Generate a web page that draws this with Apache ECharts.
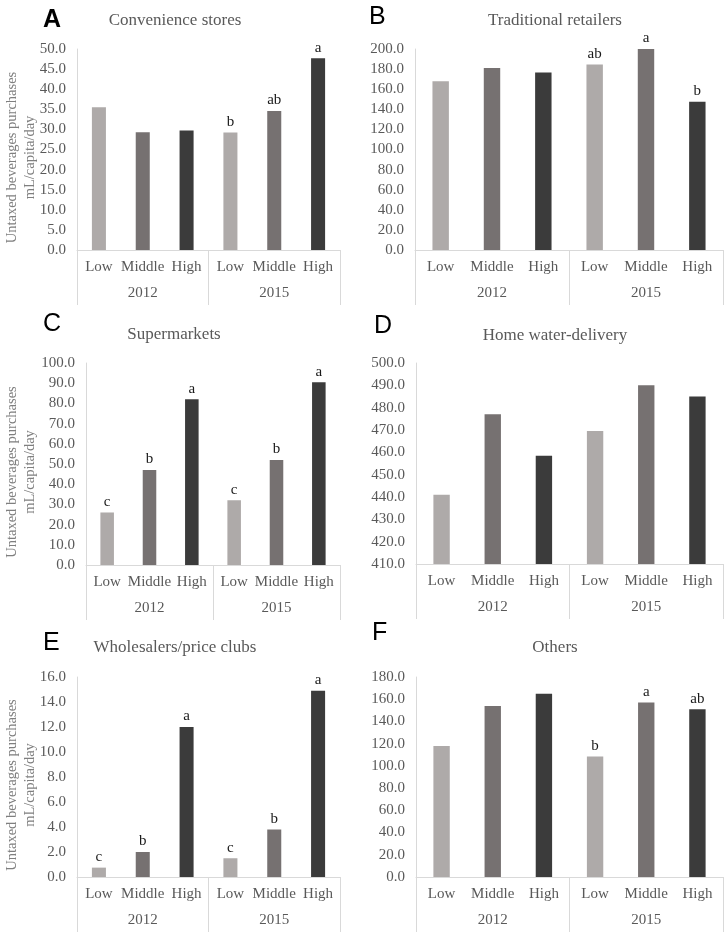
<!DOCTYPE html>
<html>
<head>
<meta charset="utf-8">
<script src="https://cdn.jsdelivr.net/npm/echarts@6/dist/echarts.min.js"></script>
<style>html,body{margin:0;padding:0;background:#fff}#c{width:726px;height:934px}</style>
</head>
<body>
<div id="c"></div>
<script>
var categories = ['Low', 'Middle', 'High', 'Low', 'Middle', 'High'];
var years = ['2012', '2015'];

var convenience = [35.5, 29.3, 29.7, 29.2, 34.6, 47.7];
var traditional = [168.0, 181.0, 176.5, 184.5, 201.0, 147.5];
var supermarkets = [26.0, 47.0, 82.0, 32.0, 52.0, 90.5];
var homeWater = [441.0, 477.0, 458.5, 469.5, 490.0, 485.0];
var wholesalers = [0.75, 2.0, 12.0, 1.5, 3.8, 14.9];
var others = [118.0, 154.0, 165.0, 108.5, 157.0, 151.0];

var lettersA = ['', '', '', 'b', 'ab', 'a'];
var lettersB = ['', '', '', 'ab', 'a', 'b'];
var lettersC = ['c', 'b', 'a', 'c', 'b', 'a'];
var lettersD = ['', '', '', '', '', ''];
var lettersE = ['c', 'b', 'a', 'c', 'b', 'a'];
var lettersF = ['', '', '', 'b', 'a', 'ab'];

var titles = ['Convenience stores', 'Traditional retailers', 'Supermarkets', 'Home water-delivery', 'Wholesalers/price clubs', 'Others'];
var panelLetters = ['A', 'B', 'C', 'D', 'E', 'F'];
var yTitle = 'Untaxed beverages purchases\nmL/capita/day';

var yMin = [0, 0, 0, 410, 0, 0];
var yMax = [50, 200, 100, 500, 16, 180];
var yInt = [5, 20, 10, 10, 2, 20];

var panels = [
  {data: convenience, letters: lettersA, grid: {left: 77, top: 49, width: 263, height: 201}, yName: true},
  {data: traditional, letters: lettersB, grid: {left: 415, top: 49, width: 308, height: 201}, yName: false},
  {data: supermarkets, letters: lettersC, grid: {left: 86, top: 363, width: 254, height: 202}, yName: true},
  {data: homeWater, letters: lettersD, grid: {left: 416, top: 363, width: 307, height: 201}, yName: false},
  {data: wholesalers, letters: lettersE, grid: {left: 77, top: 677, width: 263, height: 200}, yName: true},
  {data: others, letters: lettersF, grid: {left: 416, top: 677, width: 307, height: 200}, yName: false}
];

var barColors = ['#aeaaa9', '#767171', '#3b3b3b'];
var serif = 'Liberation Serif';
var axisGray = '#d9d9d9';
var textGray = '#595959';

var grids = [], xAxes = [], yAxes = [], series = [], titleList = [], graphics = [];
var letterPos = [[43, 8], [369, 5], [43, 312], [374, 314], [43, 631], [372, 621]];
var titlePos = [[170, 7], [550, 7], [169, 321], [550, 322], [170, 634], [550, 634]];
var nameGaps = [38, 0, 47, 0, 38, 0];

panels.forEach(function (p, i) {
  grids.push(p.grid);
  xAxes.push({
    type: 'category', gridIndex: i, data: categories, position: 'bottom',
    axisLine: {lineStyle: {color: axisGray, width: 1}},
    axisTick: {show: false},
    axisLabel: {color: textGray, fontFamily: serif, fontSize: 15, margin: 10, interval: 0}
  });
  xAxes.push({
    type: 'category', gridIndex: i, data: years, position: 'bottom',
    axisLine: {show: false},
    axisTick: {show: true, length: 55, lineStyle: {color: axisGray, width: 1}},
    axisLabel: {color: textGray, fontFamily: serif, fontSize: 15, margin: 36, interval: 0}
  });
  var ya = {
    type: 'value', gridIndex: i, min: yMin[i], max: yMax[i], interval: yInt[i],
    axisLine: {show: true, lineStyle: {color: axisGray, width: 1}},
    axisTick: {show: false},
    splitLine: {show: false},
    axisLabel: {color: textGray, fontFamily: serif, fontSize: 15, margin: 11,
      formatter: function (v) { return v.toFixed(1); }}
  };
  if (p.yName) {
    ya.name = yTitle;
    ya.nameLocation = 'middle';
    ya.nameGap = nameGaps[i];
    ya.nameMoveOverlap = false;
    ya.nameRotate = 90;
    ya.nameTextStyle = {color: '#7f7f7f', fontFamily: serif, fontSize: 14.5, lineHeight: 18, align: 'center', padding: [0, 16, 0, 0]};
  }
  yAxes.push(ya);
  var letters = p.letters;
  series.push({
    type: 'bar', xAxisIndex: i * 2, yAxisIndex: i, barWidth: '32%',
    data: p.data.map(function (v, k) {
      return {value: v, itemStyle: {color: barColors[k % 3]}};
    }),
    label: {show: true, position: 'top', distance: 3, color: '#1a1a1a', fontFamily: serif, fontSize: 15,
      formatter: function (prm) { return letters[prm.dataIndex]; }},
    silent: true, animation: false
  });
  titleList.push({
    text: titles[i], left: titlePos[i][0], top: titlePos[i][1], textAlign: 'center',
    textStyle: {color: textGray, fontFamily: serif, fontSize: 17, fontWeight: 'normal'}
  });
  graphics.push({
    type: 'text', left: letterPos[i][0], top: letterPos[i][1],
    style: {text: panelLetters[i], fill: '#000', font: (i === 0 ? 'bold ' : '') + '25px "Liberation Sans"'}
  });
});

var chart = echarts.init(document.getElementById('c'), null, {renderer: 'canvas'});
chart.setOption({
  animation: false,
  title: titleList,
  grid: grids,
  xAxis: xAxes,
  yAxis: yAxes,
  series: series,
  graphic: graphics
});
</script>
</body>
</html>
